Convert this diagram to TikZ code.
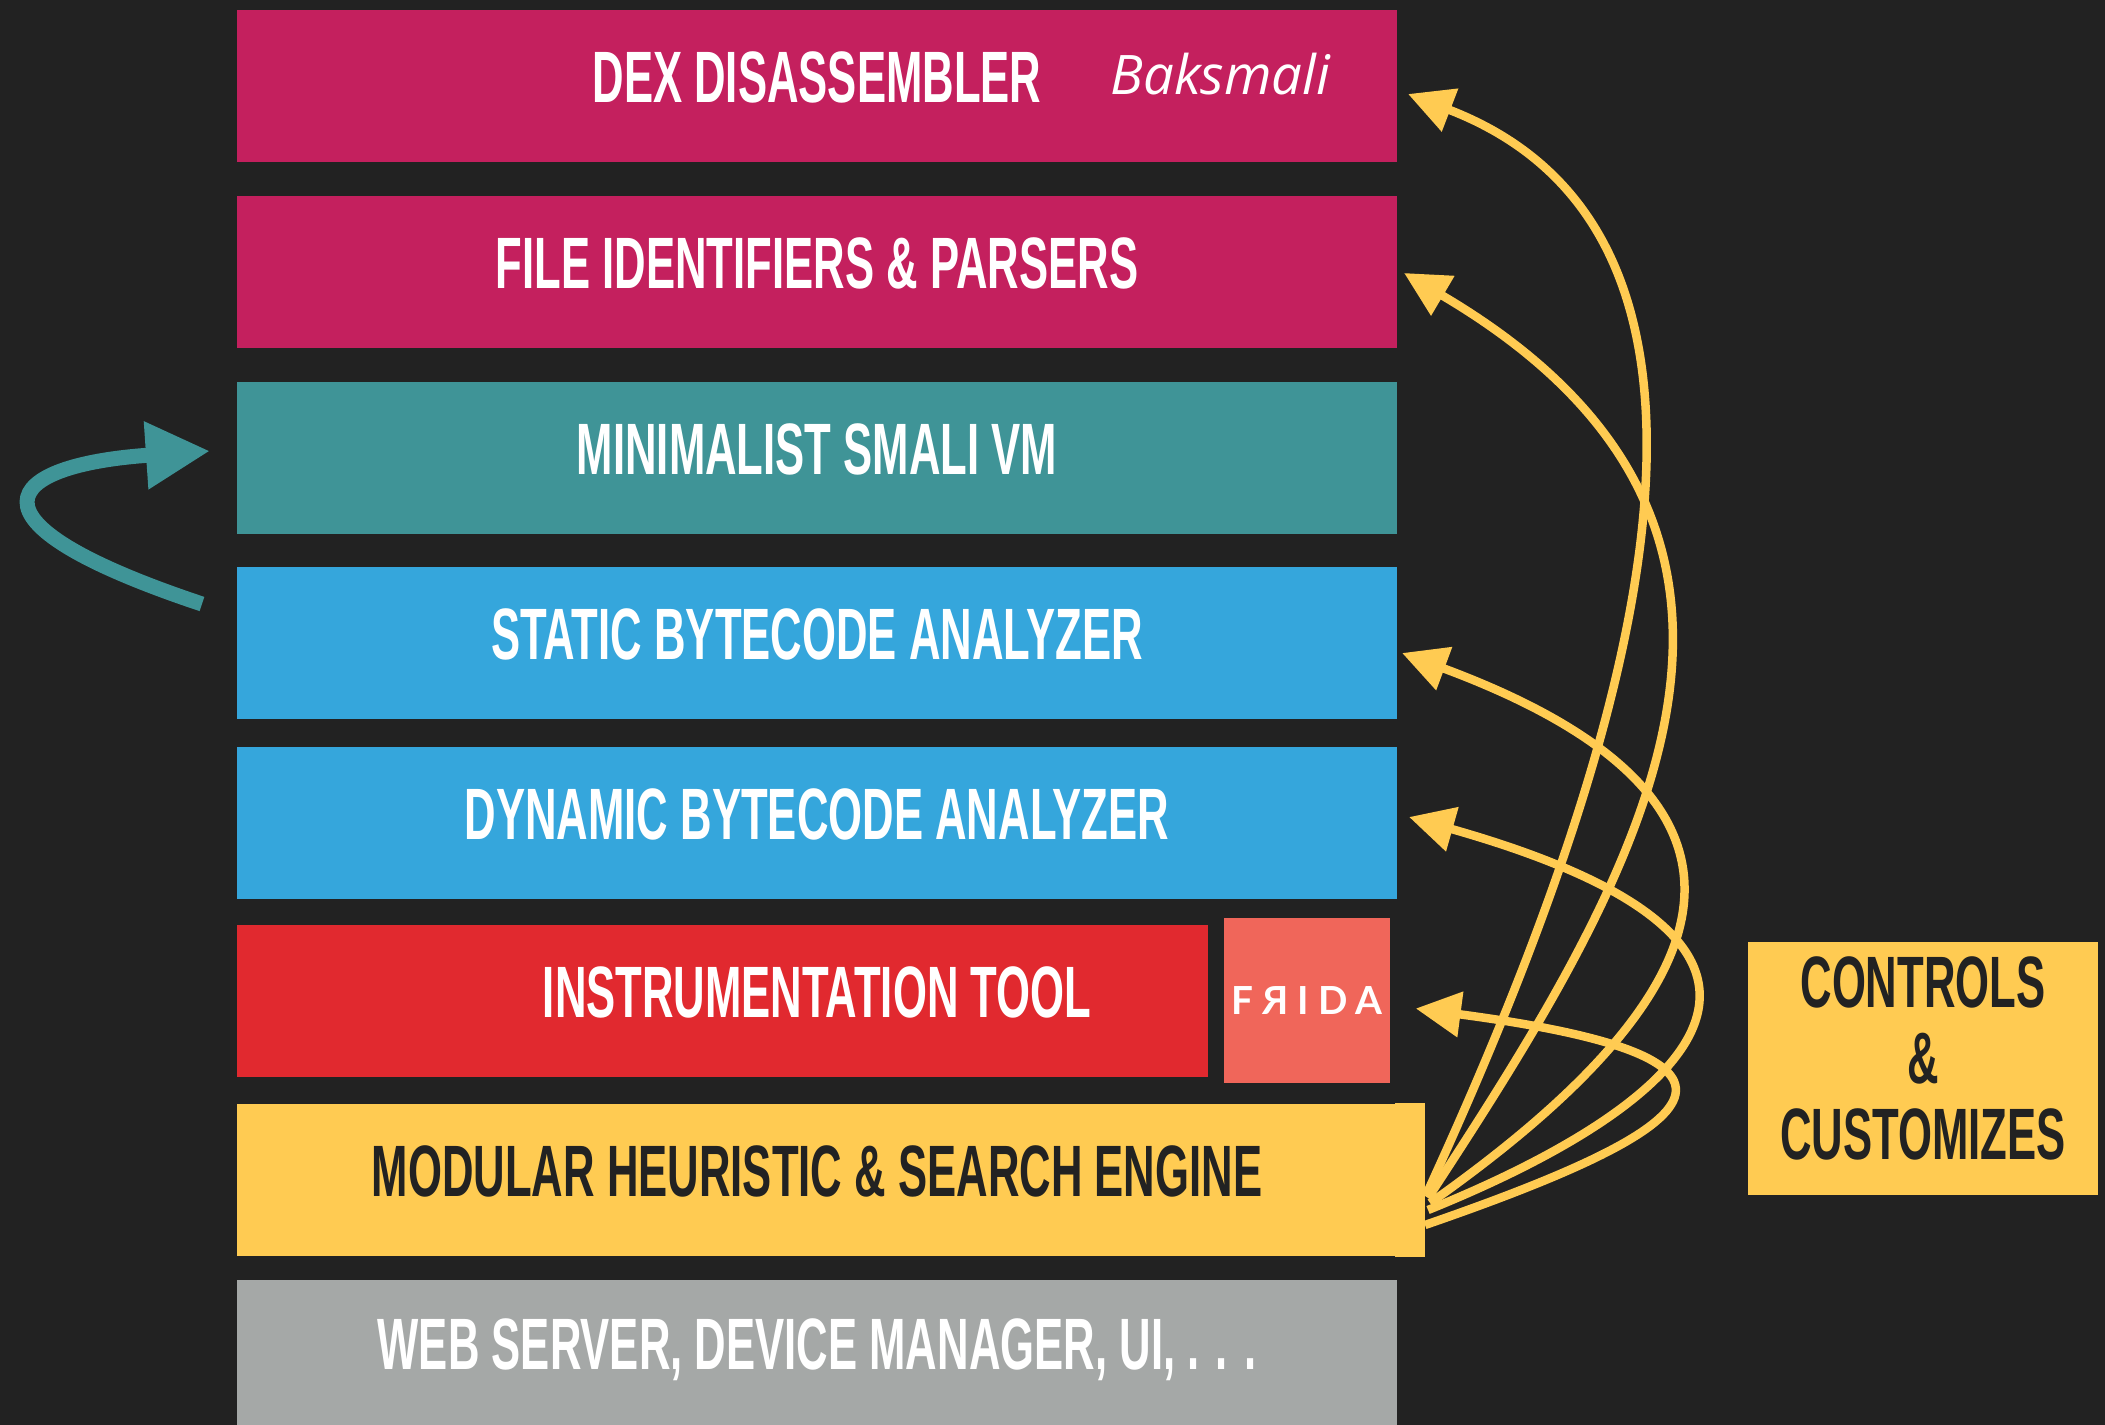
\documentclass[tikz,border=0pt]{standalone}
\usepackage{fontspec}
\usetikzlibrary{arrows.meta, calc}
\newfontfamily\layerfont[FakeStretch=0.6]{Liberation Sans}
\newfontfamily\notefont{Open Sans}
\newfontfamily\logofont[LetterSpace=23]{Lato}

\definecolor{backdrop}{HTML}{222222}
\definecolor{dexpink}{HTML}{C4205E}
\definecolor{vmteal}{HTML}{3F9497}
\definecolor{analyzerblue}{HTML}{35A6DC}
\definecolor{instrred}{HTML}{E1292F}
\definecolor{fridasalmon}{HTML}{F0665A}
\definecolor{engineyellow}{HTML}{FFCB52}
\definecolor{webgray}{HTML}{A5A8A7}

\begin{document}
\begin{tikzpicture}[
        x=0.01cm, y=-0.01cm,
        layer/.style={rectangle, inner sep=0pt, minimum width=11.6cm, minimum height=1.52cm,
            text=white, font=\layerfont\bfseries\fontsize{20.7}{24}\selectfont,
            text height=0.53cm, text depth=0.2cm},
        steerline/.style={-{Triangle[length=0.45cm, width=0.44cm]}, draw=engineyellow, line width=0.085cm},
        loopback/.style={-{Triangle[length=0.64cm, width=0.64cm]}, draw=vmteal, line width=0.15cm}
    ]
    \useasboundingbox (0,0) rectangle (2105,1425);
    \fill[backdrop] (0,0) rectangle (2105,1425);

    % layer stack
    \node[layer, fill=dexpink] (dex) at (817,86) {DEX DISASSEMBLER};
    \node[layer, fill=dexpink] (files) at (817,272) {FILE IDENTIFIERS \& PARSERS};
    \node[layer, fill=vmteal] (vm) at (817,458) {MINIMALIST SMALI VM};
    \node[layer, fill=analyzerblue] (static) at (817,643) {STATIC BYTECODE ANALYZER};
    \node[layer, fill=analyzerblue] (dynamic) at (817,823) {DYNAMIC BYTECODE ANALYZER};
    \node[layer, fill=instrred, minimum width=9.71cm] (instr) at (722.5,1001) {\hspace*{1.89cm}INSTRUMENTATION TOOL};
    \node[layer, fill=engineyellow, text=backdrop] (engine) at (817,1180) {MODULAR HEURISTIC \& SEARCH ENGINE};
    \node[layer, fill=webgray, minimum height=1.45cm] (web) at (817,1352.5) {WEB SERVER, DEVICE MANAGER, UI, . . .};
    \fill[engineyellow] ($(engine.north east)+(-3,0)$) rectangle ($(engine.south east)+(27,0)$);

    \node[anchor=base west, inner sep=0pt, text=white, font=\notefont\itshape\fontsize{15.5}{18}\selectfont] (baksmali) at (1110,95) {Baksmali};
    \node[fill=fridasalmon, minimum width=1.66cm, minimum height=1.65cm, inner sep=0pt,
        text=white, font=\logofont\bfseries\fontsize{11}{13}\selectfont] (frida) at (1307,1000.5) {FЯIDA};
    \node[fill=engineyellow, minimum width=3.5cm, minimum height=2.53cm, inner sep=0pt, align=center,
        text=backdrop, font=\layerfont\bfseries\fontsize{20.7}{21.6}\selectfont] (ctrl) at (1923,1068.5)
        {CONTROLS\\\&\\CUSTOMIZES\rule[-0.2cm]{0pt}{0.2cm}};

    % engine controls the layers
    \draw[steerline] ($(engine.east)+(28,15)$) .. controls +(205,-445) and +(380,146) .. ($(dex.east)+(10,8)$);
    \draw[steerline] ($(engine.east)+(30,18)$) .. controls +(208,-318) and +(445,262) .. ($(files.east)+(6,1)$);
    \draw[steerline] ($(engine.east)+(32,23)$) .. controls +(245,-173) and +(445,165) .. ($(static.east)+(4,10)$);
    \draw[steerline] ($(engine.east)+(30,30)$) .. controls +(272,-110) and +(452,128) .. ($(dynamic.east)+(11,-6)$);
    \draw[steerline] ($(engine.east)+(27,45)$) .. controls +(275,-95) and +(385,51) .. ($(frida.east)+(25,8)$);

    % static analyzer feeds the vm
    \draw[loopback] ($(static.west)+(-34,-39)$) .. controls +(-252,-84) and +(-205,14) .. ($(vm.west)+(-26,-7)$);
\end{tikzpicture}
\end{document}
